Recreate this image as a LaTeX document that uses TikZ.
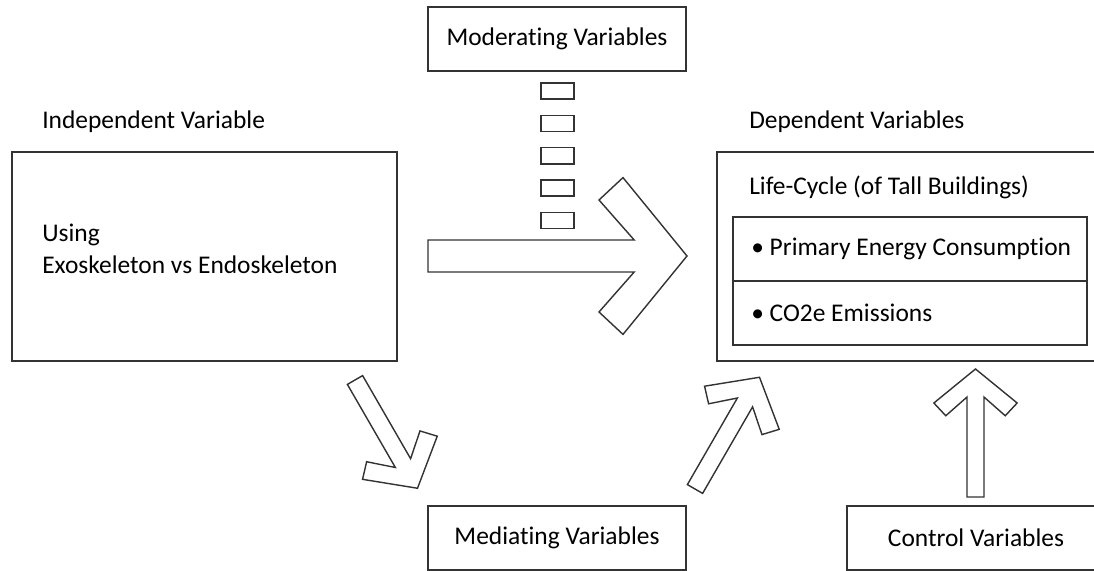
\documentclass[tikz,border=0pt]{standalone}
\usepackage{fontspec}
\setmainfont{Carlito}[Ligatures=NoCommon]
\begin{document}
\begin{tikzpicture}[x=0.025cm,y=-0.025cm,line join=miter,
    font=\fontsize{18.1}{22.7}\selectfont,
    box/.style={draw=black!80,line width=1pt,inner sep=0pt},
    txt/.style={inner sep=0pt,anchor=west,align=left},
    cell/.style={box,minimum width=8.85cm,minimum height=1.6cm},
    arr/.style={draw=black!80,line width=1pt,fill=white}]
    \def\blockarrow#1#2#3#4{% tail, angle, length, half width
        \begin{scope}[shift={#1},rotate=#2]
            \draw[arr] (0,#4) -- ({#3-3.3*#4},#4) -- ({#3-5.5*#4},{3.5*#4})
            -- ({#3-4*#4},{4.9*#4}) -- (#3,0) -- ({#3-4*#4},{-4.9*#4})
            -- ({#3-5.5*#4},{-3.5*#4}) -- ({#3-3.3*#4},-#4) -- (0,-#4) -- cycle;
        \end{scope}}
    \clip (0,0) rectangle (1094,571);
    % boxes
    \node[box,minimum width=6.45cm,minimum height=1.6cm] (mod) at (557,39) {Moderating Variables};
    \node[box,minimum width=9.625cm,minimum height=5.225cm] (indep) at (204.5,256.5) {};
    \node[box,minimum width=9.825cm,minimum height=5.225cm] (dep) at (913.5,256.5) {};
    \node[box,minimum width=6.45cm,minimum height=1.6cm] (med) at (557,538) {Mediating Variables};
    \node[box,minimum width=6.45cm,minimum height=1.6cm] (ctrl) at (976,538) {Control Variables};
    \node[cell] (energy) at (910,249) {};
    \node[cell] (co2) at (910,313) {};
    % texts
    \node[txt] (indlabel) at (42,122) {Independent Variable};
    \node[txt] (deplabel) at (749,122) {Dependent Variables};
    \node[txt] (using) at (42,249) {Using\\Exoskeleton vs Endoskeleton};
    \node[txt] (lifecycle) at (749,187) {Life-Cycle (of Tall Buildings)};
    \node[txt] (energytxt) at (751,249) {\textbullet\ Primary Energy Consumption};
    \node[txt] (co2txt) at (751,313) {\textbullet\ CO2e Emissions};
    % moderating dashes
    \foreach \i in {1,...,5}
        \node[box,minimum width=0.825cm,minimum height=0.4cm] (m\i) at (557.5,{58.6+32.4*\i}) {};
    % block arrows
    \blockarrow{(428,256)}{0}{259}{16}
    \blockarrow{(355,380)}{-60}{125}{8.8}
    \blockarrow{(695,489)}{60}{129}{8.8}
    \blockarrow{(975.5,497)}{90}{128}{8.5}
\end{tikzpicture}
\end{document}
